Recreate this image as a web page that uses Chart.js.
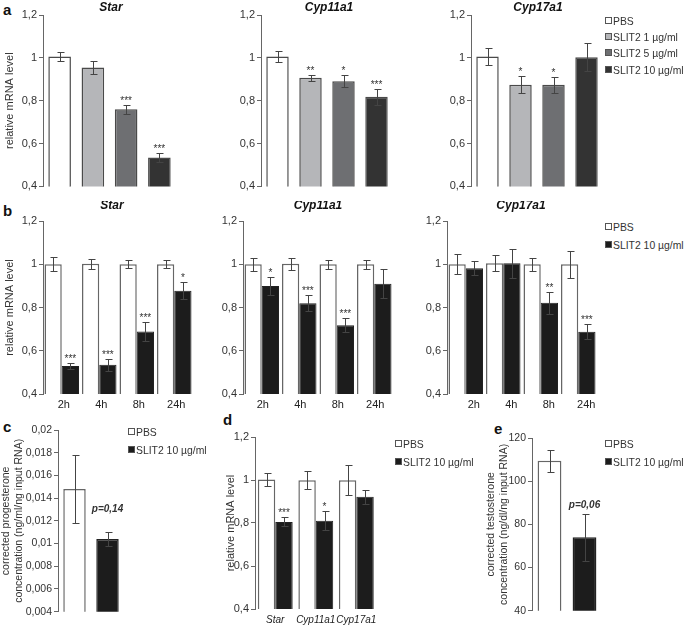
<!DOCTYPE html>
<html>
<head>
<meta charset="utf-8">
<script src="https://cdn.jsdelivr.net/npm/chart.js@4.4.1/dist/chart.umd.min.js"></script>
<style>
body { margin: 0; background: #fff; }
#fig { position: relative; width: 685px; height: 627px; overflow: hidden; font-family: 'Liberation Sans', Arial, sans-serif; }
#fig canvas { position: absolute; }
.tag { position: absolute; font-weight: bold; font-size: 15px; color: #111; line-height: 1; }
.leg { position: absolute; white-space: nowrap; font-size: 10.4px; color: #333; height: 14px; line-height: 14px; }
.leg span { display: inline-block; width: 5px; height: 5px; border: 1px solid #555; margin-right: 1px; vertical-align: 1px; }
</style>
</head>
<body>
<div id="fig">
  <div class="tag" style="left:3px;top:2px">a</div>
  <div class="tag" style="left:3px;top:203px">b</div>
  <div class="tag" style="left:3px;top:419px">c</div>
  <div class="tag" style="left:223px;top:412px">d</div>
  <div class="tag" style="left:494px;top:421px">e</div>
</div>
<script>
// a: dose response
var doseLabels = ["PBS", "SLIT2 1 µg/ml", "SLIT2 5 µg/ml", "SLIT2 10 µg/ml"];
var doseColors = ["#ffffff", "#b5b6b9", "#6e6f72", "#333333"];
var starDose = [1.006, 0.955, 0.760, 0.535];
var starDoseErr = [0.022, 0.029, 0.021, 0.022];
var starDoseSig = ["", "", "***", "***"];
var cyp11Dose = [1.006, 0.907, 0.891, 0.819];
var cyp11DoseErr = [0.026, 0.013, 0.029, 0.037];
var cyp11DoseSig = ["", "**", "*", "***"];
var cyp17Dose = [1.006, 0.874, 0.875, 1.003];
var cyp17DoseErr = [0.039, 0.040, 0.037, 0.066];
var cyp17DoseSig = ["", "*", "*", ""];

// b: time course
var timeLabels = ["2h", "4h", "8h", "24h"];
var starPbs = [1.0, 1.002, 1.0, 1.0];
var starPbsErr = [0.032, 0.023, 0.018, 0.018];
var starSlit = [0.529, 0.535, 0.689, 0.878];
var starSlitErr = [0.013, 0.028, 0.045, 0.039];
var starSlitSig = ["***", "***", "***", "*"];
var cyp11Pbs = [1.0, 1.002, 1.0, 1.0];
var cyp11PbsErr = [0.029, 0.029, 0.021, 0.021];
var cyp11Slit = [0.899, 0.820, 0.718, 0.910];
var cyp11SlitErr = [0.040, 0.036, 0.033, 0.067];
var cyp11SlitSig = ["*", "***", "***", ""];
var cyp17Pbs = [1.0, 1.005, 1.0, 1.0];
var cyp17PbsErr = [0.046, 0.036, 0.029, 0.062];
var cyp17Slit = [0.981, 1.005, 0.822, 0.688];
var cyp17SlitErr = [0.032, 0.067, 0.051, 0.035];
var cyp17SlitSig = ["", "", "**", "***"];

// c, d, e
var pairLabels = ["PBS", "SLIT2 10 µg/ml"];
var pairColors = ["#ffffff", "#1c1c1c"];
var progesterone = [0.0148, 0.0104];
var progesteroneErr = [0.0030, 0.0006];
var progesteroneSig = ["", "p=0,14"];
var geneLabels = ["Star", "Cyp11a1", "Cyp17a1"];
var genePbs = [1.002, 0.999, 0.999];
var genePbsErr = [0.032, 0.043, 0.070];
var geneSlit = [0.805, 0.811, 0.922];
var geneSlitErr = [0.021, 0.044, 0.033];
var geneSlitSig = ["***", "*", ""];
var testosterone = [109.5, 74];
var testosteroneErr = [5.1, 10.8];
var testosteroneSig = ["", "p=0,06"];

var mrnaTicks = [0.4, 0.6, 0.8, 1, 1.2];
var mrnaTickText = ["0,4", "0,6", "0,8", "1", "1,2"];
var progTicks = [0.004, 0.006, 0.008, 0.01, 0.012, 0.014, 0.016, 0.018, 0.02];
var progTickText = ["0,004", "0,006", "0,008", "0,01", "0,012", "0,014", "0,016", "0,018", "0,02"];
var testoTicks = [40, 60, 80, 100, 120];
var testoTickText = ["40", "60", "80", "100", "120"];

var FONT = "'Liberation Sans', Arial, sans-serif";
Chart.defaults.font.family = FONT;
var fig = document.getElementById("fig");

var barExtras = {
	id: "barExtras",
	afterDatasetsDraw: function (chart) {
		var ctx = chart.ctx, y = chart.scales.y, o = chart.options.plugins.barExtras;
		ctx.save();
		chart.data.datasets.forEach(function (ds, di) {
			chart.getDatasetMeta(di).data.forEach(function (bar, i) {
				var hi = Math.round(y.getPixelForValue(ds.data[i] + ds.err[i])) + 0.5;
				var lo = Math.round(y.getPixelForValue(ds.data[i] - ds.err[i])) + 0.5;
				var x = Math.round(bar.x) + 0.5;
				ctx.strokeStyle = "#444";
				ctx.lineWidth = 1;
				ctx.beginPath();
				ctx.moveTo(x, hi); ctx.lineTo(x, lo);
				ctx.moveTo(x - 3, hi); ctx.lineTo(x + 4, hi);
				ctx.moveTo(x - 3, lo); ctx.lineTo(x + 4, lo);
				ctx.stroke();
				if (ds.sig && ds.sig[i]) {
					ctx.fillStyle = "#333";
					ctx.font = o.sigFont;
					ctx.textAlign = "center";
					ctx.textBaseline = "alphabetic";
					ctx.fillText(ds.sig[i], bar.x, hi - o.sigLift);
				}
			});
		});
		if (o.title) {
			ctx.font = "italic bold 12px " + FONT;
			ctx.fillStyle = "#111";
			ctx.textAlign = "center";
			ctx.textBaseline = "middle";
			ctx.fillText(o.title, o.titleX, o.titleY);
		}
		ctx.restore();
	}
};

function makePanel(p) {
	var L = p.area[0], T = p.area[1], R = p.area[2], B = p.area[3];
	var left = L - p.padL, top = T - p.padT;
	var w = p.padL + (R - L) + 4, h = p.padT + (B - T) + p.padB;
	var cv = document.createElement("canvas");
	cv.width = w; cv.height = h;
	cv.style.left = left + "px"; cv.style.top = top + "px";
	cv.style.width = w + "px"; cv.style.height = h + "px";
	fig.appendChild(cv);
	new Chart(cv, {
		type: "bar",
		data: { labels: p.labels, datasets: p.datasets },
		options: {
			responsive: false,
			animation: false,
			devicePixelRatio: 1,
			events: [],
			layout: { padding: { top: p.padT, right: 4, left: 0, bottom: 0 } },
			plugins: {
				legend: { display: false },
				tooltip: { enabled: false },
				barExtras: {
					title: p.title,
					titleX: p.titleX - left,
					titleY: p.titleY - top,
					sigFont: p.sigFont || "10px " + FONT,
					sigLift: p.sigLift || 2
				}
			},
			scales: {
				x: {
					grid: { display: false, drawTicks: false },
					border: { display: false },
					ticks: {
						display: !!p.showX,
						color: "#222",
						font: { size: p.xSize || 11, style: p.xItalic ? "italic" : "normal" },
						padding: p.xPad || 4,
						labelOffset: p.labelOffset || 0,
						maxRotation: 0,
						autoSkip: false
					},
					afterFit: function (s) { s.height = p.padB; }
				},
				y: {
					min: p.ticks[0],
					max: p.ticks[p.ticks.length - 1],
					afterBuildTicks: function (s) {
						s.ticks = p.ticks.map(function (v) { return { value: v }; });
					},
					ticks: {
						callback: function (v, i) { return p.tickText[i]; },
						color: "#333",
						font: { size: p.tickSize || 11 },
						padding: 2
					},
					grid: { drawOnChartArea: false, tickLength: 4, color: "#666" },
					border: { color: "#666" },
					title: {
						display: !!p.yTitle,
						text: p.yTitle,
						color: "#333",
						font: { size: p.titleSize || 11, lineHeight: 1.2 },
						padding: { top: p.yTitlePad || 0, bottom: 0 }
					},
					afterFit: function (s) { s.width = p.padL; }
				}
			}
		},
		plugins: [barExtras]
	});
}

function doseSet(vals, errs, sig) {
	return [{
		data: vals, err: errs, sig: sig,
		backgroundColor: doseColors, borderColor: "#4a4a4a", borderWidth: 1.5,
		borderSkipped: false, barPercentage: 0.68, categoryPercentage: 1
	}];
}

function pairSets(pbs, pbsErr, slit, slitErr, sig, catPct) {
	return [
		{ data: pbs, err: pbsErr, backgroundColor: "#ffffff", borderColor: "#666", borderWidth: 1.5,
		  borderSkipped: false, barPercentage: 1, categoryPercentage: catPct },
		{ data: slit, err: slitErr, sig: sig, backgroundColor: "#1c1c1c", borderColor: "#222", borderWidth: 1,
		  borderSkipped: false, barPercentage: 1, categoryPercentage: catPct }
	];
}

function singleSet(vals, errs, sig) {
	return [{
		data: vals, err: errs, sig: sig,
		backgroundColor: pairColors, borderColor: ["#666", "#222"], borderWidth: 1.5,
		borderSkipped: false, barPercentage: 0.68, categoryPercentage: 1
	}];
}

// row a
makePanel({ area: [43, 15, 176, 187], padL: 43, padT: 15, padB: 8, labels: doseLabels,
	datasets: doseSet(starDose, starDoseErr, starDoseSig), ticks: mrnaTicks, tickText: mrnaTickText,
	yTitle: "relative mRNA level", yTitlePad: 3, title: "Star", titleX: 111, titleY: 8 });
makePanel({ area: [261, 15, 393, 187], padL: 30, padT: 15, padB: 8, labels: doseLabels,
	datasets: doseSet(cyp11Dose, cyp11DoseErr, cyp11DoseSig), ticks: mrnaTicks, tickText: mrnaTickText,
	title: "Cyp11a1", titleX: 329, titleY: 8 });
makePanel({ area: [471, 15, 603, 187], padL: 30, padT: 15, padB: 8, labels: doseLabels,
	datasets: doseSet(cyp17Dose, cyp17DoseErr, cyp17DoseSig), ticks: mrnaTicks, tickText: mrnaTickText,
	title: "Cyp17a1", titleX: 538, titleY: 8 });

// row b
makePanel({ area: [43, 221, 193, 394], padL: 43, padT: 20, padB: 22, labels: timeLabels, showX: true,
	datasets: pairSets(starPbs, starPbsErr, starSlit, starSlitErr, starSlitSig, 0.92),
	ticks: mrnaTicks, tickText: mrnaTickText, yTitle: "relative mRNA level", yTitlePad: 3,
	labelOffset: 2, title: "Star", titleX: 112, titleY: 206 });
makePanel({ area: [243, 221, 393, 394], padL: 30, padT: 20, padB: 22, labels: timeLabels, showX: true,
	datasets: pairSets(cyp11Pbs, cyp11PbsErr, cyp11Slit, cyp11SlitErr, cyp11SlitSig, 0.92),
	ticks: mrnaTicks, tickText: mrnaTickText, labelOffset: 1, title: "Cyp11a1", titleX: 318, titleY: 206 });
makePanel({ area: [447, 221, 597, 394], padL: 30, padT: 20, padB: 22, labels: timeLabels, showX: true,
	datasets: pairSets(cyp17Pbs, cyp17PbsErr, cyp17Slit, cyp17SlitErr, cyp17SlitSig, 0.92),
	ticks: mrnaTicks, tickText: mrnaTickText, labelOffset: 8, title: "Cyp17a1", titleX: 521, titleY: 206 });

// row c, d, e
makePanel({ area: [58, 430, 124, 612], padL: 58, padT: 15, padB: 8, labels: pairLabels,
	datasets: singleSet(progesterone, progesteroneErr, progesteroneSig), ticks: progTicks, tickText: progTickText,
	tickSize: 10.5, titleSize: 10.5,
	yTitle: ["corrected progesterone", "concentration (ng/ml/ng input RNA)"], yTitlePad: 0,
	sigFont: "italic bold 10px " + FONT, sigLift: 21 });
makePanel({ area: [255, 437, 378, 609], padL: 33, padT: 15, padB: 18, labels: geneLabels, showX: true,
	xItalic: true, xSize: 10, xPad: 5,
	datasets: pairSets(genePbs, genePbsErr, geneSlit, geneSlitErr, geneSlitSig, 0.86),
	ticks: mrnaTicks, tickText: mrnaTickText, yTitle: "relative mRNA level", yTitlePad: 2 });
makePanel({ area: [532, 438, 602, 611], padL: 50, padT: 15, padB: 8, labels: pairLabels,
	datasets: singleSet(testosterone, testosteroneErr, testosteroneSig), ticks: testoTicks, tickText: testoTickText,
	tickSize: 10.5, titleSize: 10.5,
	yTitle: ["corrected testosterone", "concentration (ng/dl/ng input RNA)"], yTitlePad: 3,
	sigFont: "italic bold 10px " + FONT, sigLift: 7 });

// legends
function addLegend(x, ys, labels, colors) {
	labels.forEach(function (t, i) {
		var d = document.createElement("div");
		d.className = "leg";
		d.style.left = x + "px";
		d.style.top = (ys[i] - 7) + "px";
		var s = document.createElement("span");
		s.style.background = colors[i];
		d.appendChild(s);
		d.appendChild(document.createTextNode(t));
		fig.appendChild(d);
	});
}
addLegend(605, [22, 38, 54, 71], doseLabels, doseColors);
addLegend(605, [228, 246], pairLabels, pairColors);
addLegend(128, [433, 451], pairLabels, pairColors);
addLegend(395, [445, 463], pairLabels, pairColors);
addLegend(605, [445, 463], pairLabels, pairColors);
</script>
</body>
</html>
